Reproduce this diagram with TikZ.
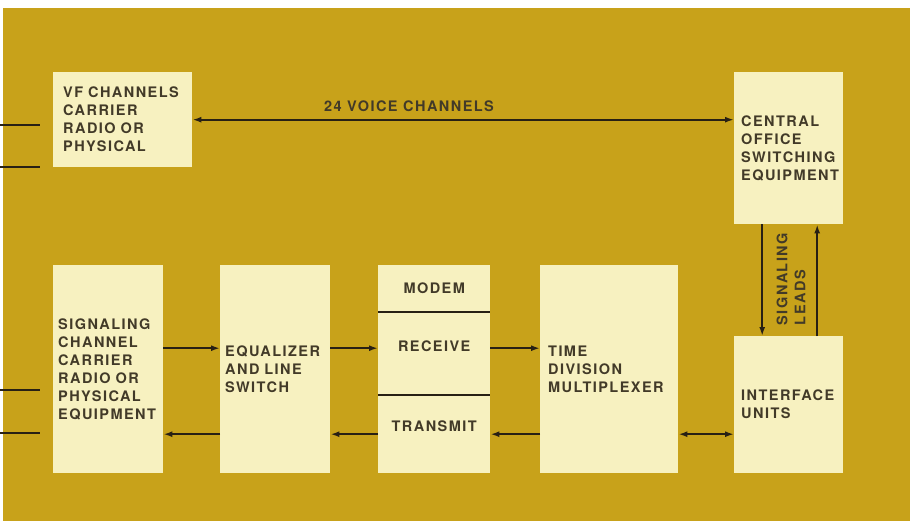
\documentclass[tikz,border=0pt]{standalone}
\usepackage{fontspec}
\setmainfont{TeX Gyre Heros}[LetterSpace=10]
\usetikzlibrary{arrows.meta}
\definecolor{bg}{RGB}{200,162,26}
\definecolor{boxc}{RGB}{247,241,192}
\definecolor{txt}{RGB}{66,58,40}
\definecolor{ln}{RGB}{40,32,20}
\begin{document}
\begin{tikzpicture}[x=1pt,y=-1pt,
  >={Latex[length=9pt,width=6pt]},
  lbl/.style={font=\fontsize{14.5}{18}\selectfont\bfseries, text=txt, inner sep=0pt},
  blk/.style={lbl, fill=boxc, inner ysep=0pt, align=left, anchor=north west},
  part/.style={fill=boxc, inner sep=0pt, anchor=north west, minimum width=112pt},
  arr/.style={draw=ln, line width=1.8pt},
  divl/.style={draw=ln, line width=1.4pt}]
\useasboundingbox (0,0) rectangle (910,521);
\fill[white] (0,0) rectangle (910,521);
\fill[bg] (3,8) rectangle (910,521);

% top row
\node[blk, minimum height=95pt, text width=119pt, inner xsep=10pt] (vf) at (53,72)
  {VF CHANNELS\\CARRIER\\RADIO OR\\PHYSICAL};
\node[blk, minimum height=152pt, text width=95pt, inner xsep=7pt] (co) at (734,72)
  {CENTRAL\\OFFICE\\SWITCHING\\EQUIPMENT};

% bottom row
\node[blk, minimum height=208pt, text width=100pt, inner xsep=5pt] (sig) at (53,265)
  {SIGNALING\\CHANNEL\\CARRIER\\RADIO OR\\PHYSICAL\\EQUIPMENT};
\node[blk, minimum height=208pt, text width=100pt, inner xsep=5pt] (eq) at (220,265)
  {EQUALIZER\\AND LINE\\SWITCH};
\node[part, minimum height=47pt] (mT) at (378,265) {};
\node[part, minimum height=83pt] (mR) at (378,312) {};
\node[part, minimum height=78pt] (mX) at (378,395) {};
\node[lbl] (mTt) at (mT.center) {MODEM};
\node[lbl] (mRt) at ([yshift=7pt]mR.center) {RECEIVE};
\node[lbl] (mXt) at ([yshift=8pt]mX.center) {TRANSMIT};
\draw[divl] (mR.north west) -- (mR.north east);
\draw[divl] (mX.north west) -- (mX.north east);
\node[blk, minimum height=208pt, text width=122pt, inner xsep=8pt] (tdm) at (540,265)
  {TIME\\DIVISION\\MULTIPLEXER};
\node[blk, minimum height=137pt, text width=95pt, inner xsep=7pt] (ifu) at (734,336)
  {INTERFACE\\UNITS};

% connectors
\draw[arr,<->] (vf.east) -- node[lbl, pos=0.4, above=7pt] (vc) {24 VOICE CHANNELS} ([yshift=28.5pt]co.west);
\draw[arr,->] ([yshift=21pt]sig.east) -- ([yshift=21pt]eq.west);
\draw[arr,->] ([yshift=-65pt]eq.west) -- ([yshift=-65pt]sig.east);
\draw[arr,->] ([yshift=21pt]eq.east) -- ([yshift=5.5pt]mR.west);
\draw[arr,->] (mX.west) -- ([yshift=-65pt]eq.east);
\draw[arr,->] ([yshift=5.5pt]mR.east) -- ([yshift=21pt]tdm.west);
\draw[arr,->] ([yshift=-65pt]tdm.west) -- (mX.east);
\draw[arr,<->] ([yshift=-65pt]tdm.east) -- ([yshift=-29.5pt]ifu.west);
\draw[arr,->] ([xshift=-26.5pt]co.south) -- ([xshift=-26.5pt]ifu.north);
\draw[arr,->] ([xshift=28.5pt]ifu.north) -- ([xshift=28.5pt]co.south);
\node[lbl, rotate=90, align=left] (sl) at (791,279) {SIGNALING\\LEADS};

% free lines at left edge
\coordinate (a1) at (0,125); \coordinate (b1) at (40,125);
\coordinate (a2) at (0,167); \coordinate (b2) at (40,167);
\coordinate (a3) at (0,390); \coordinate (b3) at (40,390);
\coordinate (a4) at (0,433); \coordinate (b4) at (40,433);
\draw[arr] (a1) -- (b1);
\draw[arr] (a2) -- (b2);
\draw[arr] (a3) -- (b3);
\draw[arr] (a4) -- (b4);
\end{tikzpicture}
\end{document}
